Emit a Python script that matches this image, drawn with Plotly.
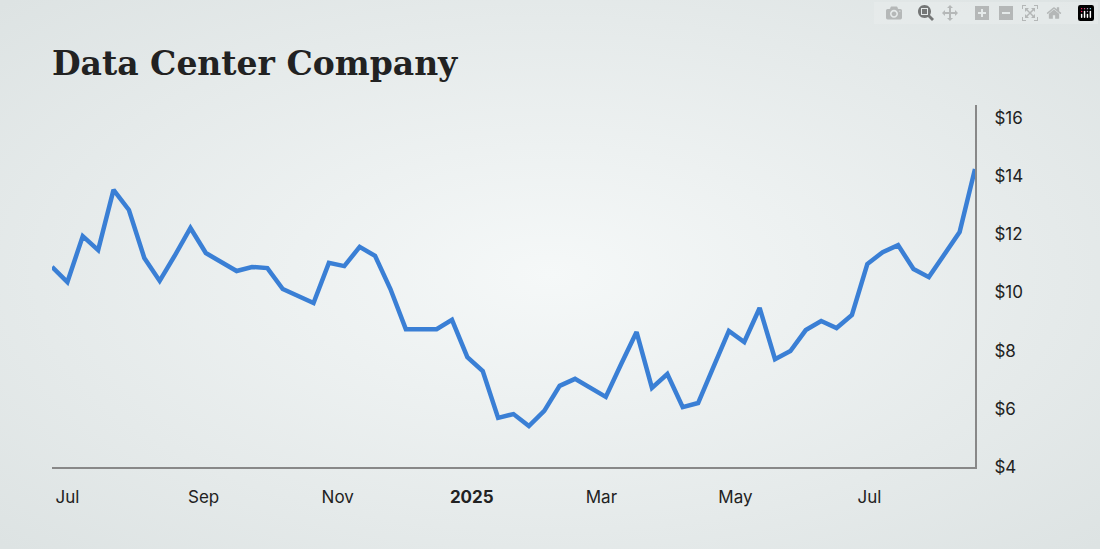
import plotly.graph_objects as go
import pandas as pd

start_date = "2024-06-24"
prices = [10.88,10.36,11.94,11.46,13.53,12.84,11.19,10.40,11.29,12.22,11.36,11.05,10.74,10.88,10.84,
          10.12,9.88,9.64,11.02,10.91,11.57,11.26,10.12,8.74,8.74,8.74,9.06,7.78,7.30,5.69,5.82,5.41,
          5.93,6.79,7.03,6.72,6.41,7.54,8.64,6.72,7.20,6.06,6.20,7.44,8.68,8.30,9.47,7.71,7.99,8.71,
          9.02,8.78,9.23,10.98,11.39,11.63,10.81,10.53,11.29,12.08,14.25]
dates = pd.date_range(start_date, periods=len(prices), freq="7D")

tick_dates = ["2024-07-01","2024-09-01","2024-11-01","2025-01-01","2025-03-01","2025-05-01","2025-07-01"]
tick_text = ["Jul","Sep","Nov","<b>2025</b>","Mar","May","Jul"]
y_ticks = [4,6,8,10,12,14,16]
y_text = ["$" + str(v) for v in y_ticks]

svg = ("data:image/svg+xml;utf8,<svg xmlns='http://www.w3.org/2000/svg' width='1100' height='549'>"
       "<defs><radialGradient id='g' cx='50%' cy='50%' r='70%'>"
       "<stop offset='0' stop-color='%23f5f8f8'/><stop offset='1' stop-color='%23dde3e3'/>"
       "</radialGradient></defs><rect width='1100' height='549' fill='url(%23g)'/></svg>")

fig = go.Figure(go.Scatter(x=dates, y=prices, mode="lines",
                           line=dict(color="#3a7fd5", width=4.5), hoverinfo="skip"))
fig.update_layout(
    width=1100, height=549, margin=dict(l=52, r=125, t=105, b=82),
    paper_bgcolor="#e9eded", plot_bgcolor="rgba(0,0,0,0)", showlegend=False,
    images=[dict(source=svg, xref="paper", yref="paper", x=-52/923, y=1+105/362,
                 sizex=1100/923, sizey=549/362, sizing="stretch", layer="below",
                 xanchor="left", yanchor="top")],
    title=dict(text="<b>Data Center Company</b>", x=52/1100, xanchor="left", y=0.885, yanchor="middle",
               font=dict(family="DejaVu Serif", size=33, color="#222222")),
    font=dict(family="Inter, Liberation Sans, Arial", size=17, color="#222222"),
)
fig.update_xaxes(range=[dates[0], dates[-1]], tickvals=pd.to_datetime(tick_dates), ticktext=tick_text,
                 showgrid=False, showline=True, linecolor="#888888", linewidth=2, ticks="",
                 zeroline=False, ticklabelstandoff=14)
fig.update_yaxes(range=[4, 16.45], side="right", tickvals=y_ticks, ticktext=y_text,
                 showgrid=False, showline=True, linecolor="#888888", linewidth=2, ticks="",
                 zeroline=False, ticklabelstandoff=14)
fig.write_html("out.html", post_script="document.body.style.margin='0';")
